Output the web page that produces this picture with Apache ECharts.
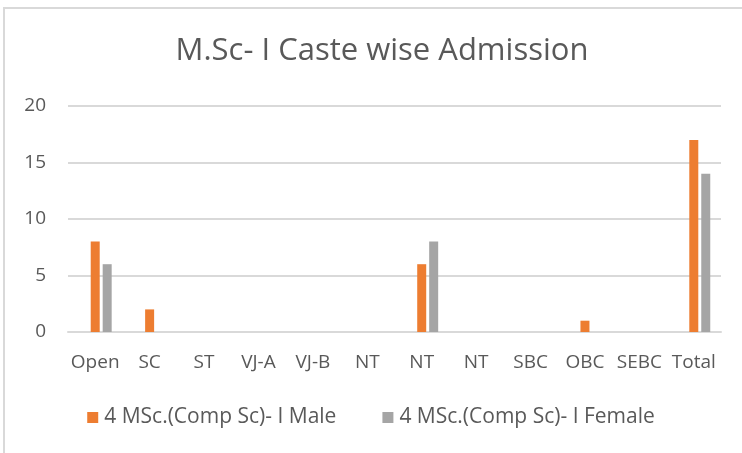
<!DOCTYPE html>
<html>
<head>
<meta charset="utf-8">
<script src="https://cdn.jsdelivr.net/npm/echarts@6/dist/echarts.min.js"></script>
<style>
  html, body { margin: 0; padding: 0; background: #fff; }
  #chart { width: 742px; height: 453px; }
</style>
</head>
<body>
<div id="chart"></div>
<script>
/* data */
var categories = ['Open', 'SC', 'ST', 'VJ-A', 'VJ-B', 'NT', 'NT', 'NT', 'SBC', 'OBC', 'SEBC', 'Total'];
var maleValues = [8, 2, 0, 0, 0, 0, 6, 0, 0, 1, 0, 17];
var femaleValues = [6, 0, 0, 0, 0, 0, 8, 0, 0, 0, 0, 14];
// the source chart keeps an empty first series in each cluster
var emptyValues = [null, null, null, null, null, null, null, null, null, null, null, null];
var yTicks = [0, 5, 10, 15, 20];

var FONT = '"Open Sans", sans-serif';
var TEXT = '#595959';

var myChart = echarts.init(document.getElementById('chart'));
var option = {
  backgroundColor: '#fff',
  animation: false,
  title: {
    text: 'M.Sc- I Caste wise Admission',
    left: 377,
    textAlign: 'center',
    top: 31,
    textStyle: { fontFamily: FONT, fontSize: 31, fontWeight: 'normal', color: TEXT }
  },
  graphic: [{
    type: 'rect',
    shape: { x: 4, y: 8, width: 800, height: 500 },
    style: { fill: 'none', stroke: '#d9d9d9', lineWidth: 2 },
    silent: true
  }],
  legend: {
    left: 'center',
    top: 402,
    itemWidth: 11,
    itemHeight: 11,
    itemGap: 46,
    icon: 'rect',
    data: ['4 MSc.(Comp Sc)- I Male', '4 MSc.(Comp Sc)- I Female'],
    textStyle: { fontFamily: FONT, fontSize: 21, color: TEXT, padding: [0, 0, 0, 1] }
  },
  grid: { left: 68, right: 21, top: 106, bottom: 121, containLabel: false },
  xAxis: {
    type: 'category',
    data: categories,
    axisLine: { lineStyle: { color: '#d9d9d9', width: 2 } },
    axisTick: { show: false },
    axisLabel: { interval: 0, margin: 21, fontFamily: FONT, fontSize: 19, color: TEXT }
  },
  yAxis: {
    type: 'value',
    min: yTicks[0],
    max: yTicks[yTicks.length - 1],
    interval: 5,
    axisLine: { show: false },
    axisTick: { show: false },
    splitLine: { lineStyle: { color: '#d9d9d9', width: 2 } },
    axisLabel: { margin: 22, fontFamily: FONT, fontSize: 19, color: TEXT }
  },
  series: [
    { name: 'empty', type: 'bar', data: emptyValues, barWidth: 9, barGap: '33%' },
    { name: '4 MSc.(Comp Sc)- I Male', type: 'bar', data: maleValues, barWidth: 9, barGap: '33%',
      itemStyle: { color: '#ed7d31' } },
    { name: '4 MSc.(Comp Sc)- I Female', type: 'bar', data: femaleValues, barWidth: 9, barGap: '33%',
      itemStyle: { color: '#a5a5a5' } }
  ]
};
myChart.setOption(option);
</script>
</body>
</html>
